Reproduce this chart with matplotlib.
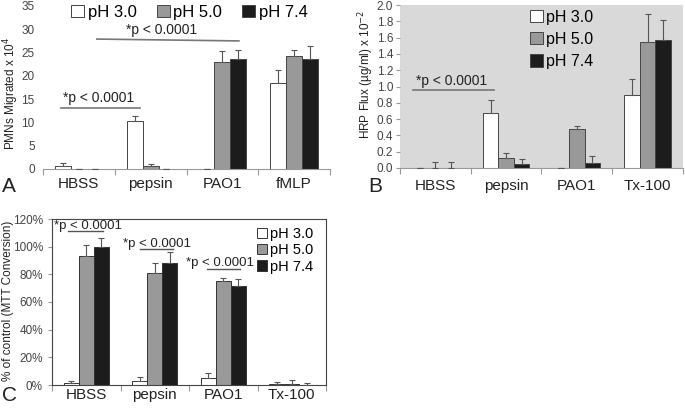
import numpy as np
import matplotlib
matplotlib.use("Agg")
import matplotlib.pyplot as plt
from matplotlib.ticker import FuncFormatter

# ====== DATA ======
series = ["pH 3.0", "pH 5.0", "pH 7.4"]
colors = ["white", "#999999", "#1c1c1c"]

cats_a = ["HBSS", "pepsin", "PAO1", "fMLP"]
a_ph3 = [0.6, 10.4, 0.0, 18.5]
a_ph5 = [0.0, 0.7, 23.0, 24.3]
a_ph74 = [0.0, 0.05, 23.7, 23.6]
a_err3 = [0.7, 0.9, 0.0, 2.7]
a_err5 = [0.0, 0.4, 2.4, 1.3]
a_err74 = [0.0, 0.0, 1.9, 2.9]

cats_b = ["HBSS", "pepsin", "PAO1", "Tx-100"]
b_ph3 = [0.0, 0.68, 0.0, 0.90]
b_ph5 = [0.0, 0.12, 0.48, 1.54]
b_ph74 = [0.0, 0.05, 0.06, 1.57]
b_err3 = [0.0, 0.15, 0.0, 0.19]
b_err5 = [0.07, 0.07, 0.03, 0.35]
b_err74 = [0.07, 0.06, 0.09, 0.25]

cats_c = ["HBSS", "pepsin", "PAO1", "Tx-100"]
c_ph3 = [1.8, 3.0, 5.0, 0.5]
c_ph5 = [93.0, 81.0, 75.0, 1.0]
c_ph74 = [100.0, 88.0, 71.5, 0.0]
c_err3 = [0.8, 2.5, 4.0, 1.5]
c_err5 = [8.0, 7.0, 2.5, 2.5]
c_err74 = [6.0, 8.0, 5.0, 1.5]

BW = 0.22
TXT = "#222222"
plt.rcParams["font.family"] = ["Liberation Sans", "DejaVu Sans"]


def bars(ax, vals, errs, ec="#444444"):
    x = np.arange(len(vals[0]))
    hs = []
    for k, (v, e) in enumerate(zip(vals, errs)):
        xs = x + (k - 1) * BW
        h = ax.bar(xs, v, BW, color=colors[k], edgecolor=ec, linewidth=0.7,
                   label=series[k], zorder=2)
        hs.append(h)
        e = np.array(e)
        ax.errorbar(xs, v, yerr=[np.zeros_like(e), e], fmt="none",
                    ecolor="#555555", elinewidth=0.8, capsize=2, capthick=0.8,
                    zorder=3)
    return hs


def cat_axis(ax, cats, pad):
    n = len(cats)
    ax.set_xlim(-0.5, n - 0.5)
    ax.set_xticks(np.arange(-0.5, n, 1.0))
    ax.set_xticklabels([])
    ax.set_xticks(np.arange(n), minor=True)
    ax.set_xticklabels(cats, minor=True, fontsize=11, color=TXT)
    ax.tick_params(axis="x", which="minor", length=0, pad=pad)
    ax.tick_params(axis="x", which="major", length=4, color="#999999")
    ax.tick_params(axis="y", labelsize=8.5, labelcolor="#444444")


def ylab(x, y, s):
    fig.text(x / 685, 1 - y / 409, s, rotation=90, ha="center", va="center",
             fontsize=8.5, color=TXT)


fig = plt.figure(figsize=(6.85, 4.09), dpi=100)

# ---- A ----
axA = fig.add_axes([43 / 685, 1 - 169 / 409, 287 / 685, 163 / 409])
hs = bars(axA, [a_ph3, a_ph5, a_ph74], [a_err3, a_err5, a_err74])
cat_axis(axA, cats_a, 6)
axA.set_ylim(0, 35)
axA.set_yticks(range(0, 36, 5))
for s in ["top", "right", "left"]:
    axA.spines[s].set_visible(False)
axA.spines["bottom"].set_color("#999999")
axA.tick_params(axis="y", length=0, pad=6)
ylab(11, 93, "PMNs Migrated x 10$^4$")
axA.plot([-0.25, 0.85], [13.1, 13.1], color="#777777", lw=1.2)
axA.text(0.28, 14.3, "*p < 0.0001", ha="center", fontsize=10, color=TXT)
axA.plot([0.25, 2.23], [27.9, 27.5], color="#777777", lw=1.2)
axA.text(1.15, 29.0, "*p < 0.0001", ha="center", fontsize=10, color=TXT)
axA.legend(handles=hs, ncol=3, loc="upper center", bbox_to_anchor=(0.51, 1.1),
           frameon=False, fontsize=12, handlelength=0.8, handleheight=0.8,
           handletextpad=0.2, columnspacing=1.2)

# ---- B ----
axB = fig.add_axes([400 / 685, 1 - 168 / 409, 283 / 685, 163 / 409])
axB.set_facecolor("#d9d9d9")
hs = bars(axB, [b_ph3, b_ph5, b_ph74], [b_err3, b_err5, b_err74])
cat_axis(axB, cats_b, 8)
axB.set_ylim(0, 2.0)
axB.set_yticks(np.arange(0, 2.01, 0.2))
axB.yaxis.set_major_formatter(FuncFormatter(lambda v, p: f"{v:.1f}"))
for s in ["top", "right", "left"]:
    axB.spines[s].set_visible(False)
axB.spines["bottom"].set_color("#999999")
axB.tick_params(axis="y", length=3, color="#999999", pad=2)
ylab(366, 74, "HRP Flux (µg/ml) x 10$^{-2}$")
axB.plot([-0.32, 0.83], [0.96, 0.96], color="#777777", lw=1.2)
axB.text(0.23, 1.02, "*p < 0.0001", ha="center", fontsize=10, color=TXT)
axB.legend(handles=hs, loc="upper left", bbox_to_anchor=(0.41, 1.06),
           frameon=False, fontsize=11.5, handlelength=0.8, handleheight=0.8,
           handletextpad=0.2, labelspacing=0.45)

# ---- C ----
axC = fig.add_axes([52 / 685, 1 - 385 / 409, 274 / 685, 166 / 409])
hs = bars(axC, [c_ph3, c_ph5, c_ph74], [c_err3, c_err5, c_err74], ec="#333333")
cat_axis(axC, cats_c, 2)
axC.set_ylim(0, 120)
axC.set_yticks(range(0, 121, 20))
axC.yaxis.set_major_formatter(FuncFormatter(lambda v, p: f"{v:.0f}%"))
for s in axC.spines.values():
    s.set_color("#444444")
    s.set_linewidth(0.8)
axC.tick_params(axis="y", length=3, color="#999999")
ylab(8, 301, "% of control (MTT Conversion)")
sig_c = [(-0.27, 0.25, 111, -0.47, 113), (0.79, 1.26, 98, 0.53, 100),
         (1.77, 2.24, 84, 1.46, 86)]
for x0, x1, yl, xt, yt in sig_c:
    axC.plot([x0, x1], [yl, yl], color="#555555", lw=1.0)
    axC.text(xt, yt, "*p < 0.0001", ha="left", fontsize=9.5, color=TXT)
axC.legend(handles=hs, loc="upper right", bbox_to_anchor=(1.0, 1.03),
           frameon=False, fontsize=10.5, handlelength=0.7, handleheight=0.7,
           handletextpad=0.2, labelspacing=0.15)

# panel letters
fig.text(2 / 685, 1 - 192 / 409, "A", fontsize=15, color=TXT)
fig.text(368 / 685, 1 - 192 / 409, "B", fontsize=15, color=TXT)
fig.text(2 / 685, 1 - 401 / 409, "C", fontsize=15, color=TXT)

fig.savefig("out.png", dpi=100)
